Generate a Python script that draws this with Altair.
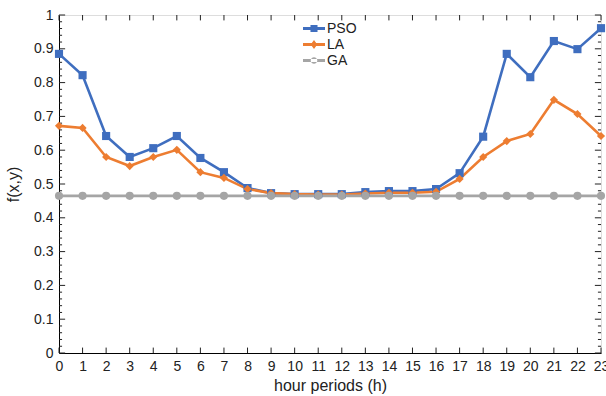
import altair as alt
import pandas as pd

hours = list(range(24))
pso = [0.885, 0.822, 0.642, 0.580, 0.606, 0.642, 0.577, 0.535, 0.488, 0.473, 0.470, 0.470,
       0.470, 0.476, 0.479, 0.479, 0.485, 0.532, 0.640, 0.885, 0.816, 0.923, 0.899, 0.961]
la = [0.672, 0.666, 0.580, 0.553, 0.580, 0.601, 0.535, 0.518, 0.485, 0.473, 0.470, 0.469,
      0.469, 0.472, 0.474, 0.474, 0.477, 0.515, 0.580, 0.627, 0.648, 0.749, 0.707, 0.642]
ga = [0.465] * 24
series_names = ["PSO", "LA", "GA"]
colors = ["#3F6EBF", "#ED7D31", "#A5A5A5"]
y_major = [round(v * 0.1, 1) for v in range(11)]
y_minor = [round(v * 0.02, 2) for v in range(51) if v % 5 != 0]

rows = []
for name, vals in zip(series_names, [pso, la, ga]):
    for h, v in zip(hours, vals):
        rows.append({"h": h, "value": v, "series": name})
df = pd.DataFrame(rows)

W, H = 542, 338
FONT = "Liberation Sans"
TXT = "#222"
xs = alt.Scale(domain=[0, 23], nice=False, zero=False)
ys = alt.Scale(domain=[0, 1], nice=False)

AX = alt.Axis(values=hours, ticks=False, grid=False, domainColor="black",
              labelFontSize=14, labelFont=FONT, labelColor=TXT,
              labelPadding=6, title="hour periods (h)", titleFont=FONT,
              titleFontSize=16, titleFontWeight="normal", titleColor=TXT,
              titlePadding=4, labelFlush=False, labelOverlap=False)
AY = alt.Axis(values=y_major, format="~g", ticks=False, grid=False,
              domainColor="black", labelFontSize=14, labelFont=FONT,
              labelColor=TXT, labelPadding=6, title="f(x,y)",
              titleFont=FONT, titleFontSize=16, titleFontWeight="normal",
              titleColor=TXT, titlePadding=12, labelOverlap=False)


def cscale():
    return alt.Scale(domain=series_names, range=colors)


base = alt.Chart(df)
lines = base.mark_line(strokeWidth=2.6).encode(
    x=alt.X("h:Q", scale=xs, axis=AX, title="hour periods (h)"),
    y=alt.Y("value:Q", scale=ys, axis=AY, title="f(x,y)"),
    color=alt.Color("series:N", scale=cscale(), legend=None),
    detail="series:N",
)
points = base.mark_point(filled=True, opacity=1, size=66).encode(
    x=alt.X("h:Q", scale=xs, axis=AX, title="hour periods (h)"),
    y=alt.Y("value:Q", scale=ys, axis=AY, title="f(x,y)"),
    color=alt.Color("series:N", scale=cscale(), legend=None),
    shape=alt.Shape("series:N", scale=alt.Scale(domain=series_names, range=["square", "diamond", "circle"]),
                    legend=None),
)

leg_paths = [
    "M-1,-0.14H1V0.14H-1Z M-0.32,-0.32H0.32V0.32H-0.32Z",
    "M-1,-0.14H1V0.14H-1Z M0,-0.42L0.3,0L0,0.42L-0.3,0Z",
    "M-1,-0.14H1V0.14H-1Z M-0.3,0A0.3,0.3 0 1,0 0.3,0A0.3,0.3 0 1,0 -0.3,0Z",
]
leg = alt.Legend(orient="none", legendX=244, legendY=6, title=None,
                 symbolSize=484, symbolStrokeWidth=0, labelFontSize=14,
                 labelFont=FONT, labelColor=TXT, clipHeight=15,
                 rowPadding=1, labelOffset=2)
legend_layer = alt.Chart(df).transform_filter("datum.h < 0").mark_point(filled=True, opacity=1).encode(
    x=alt.X("h:Q", scale=xs, axis=AX, title="hour periods (h)"),
    y=alt.Y("value:Q", scale=ys, axis=AY, title="f(x,y)"),
    color=alt.Color("series:N", scale=alt.Scale(domain=series_names, range=colors), legend=leg),
    shape=alt.Shape("series:N", scale=alt.Scale(domain=series_names, range=leg_paths), legend=leg),
)

# inward ticks
xt = pd.DataFrame({"h": hours})
ytM = pd.DataFrame({"v": y_major})
ytm = pd.DataFrame({"v": y_minor})
tick_style = dict(color=TXT, strokeWidth=1)
XE = dict(scale=xs, axis=AX, title="hour periods (h)")
YE = dict(scale=ys, axis=AY, title="f(x,y)")
xb = alt.Chart(xt).mark_rule(**tick_style).encode(
    x=alt.X("h:Q", **XE), y=alt.datum(0, **YE), y2=alt.datum(0.016))
xtp = alt.Chart(xt).mark_rule(**tick_style).encode(
    x=alt.X("h:Q", **XE), y=alt.datum(1, **YE), y2=alt.datum(0.984))
yl = alt.Chart(ytM).mark_rule(**tick_style).encode(
    y=alt.Y("v:Q", **YE), x=alt.datum(0, **XE), x2=alt.datum(0.26))
yr = alt.Chart(ytM).mark_rule(**tick_style).encode(
    y=alt.Y("v:Q", **YE), x=alt.datum(23, **XE), x2=alt.datum(22.74))
yl2 = alt.Chart(ytm).mark_rule(**tick_style).encode(
    y=alt.Y("v:Q", **YE), x=alt.datum(0, **XE), x2=alt.datum(0.13))
yr2 = alt.Chart(ytm).mark_rule(**tick_style).encode(
    y=alt.Y("v:Q", **YE), x=alt.datum(23, **XE), x2=alt.datum(22.87))

chart = alt.layer(lines, xb, xtp, yl, yr, yl2, yr2, points, legend_layer).resolve_scale(
    shape="independent", color="independent"
).properties(
    width=W, height=H,
    autosize=alt.AutoSizeParams(type="none"),
    padding={"left": 59, "top": 15, "right": 5, "bottom": 43},
).configure_view(stroke="black", strokeWidth=1).configure(background="white")

chart.save("out.html", embed_options={"renderer": "svg", "actions": False})
